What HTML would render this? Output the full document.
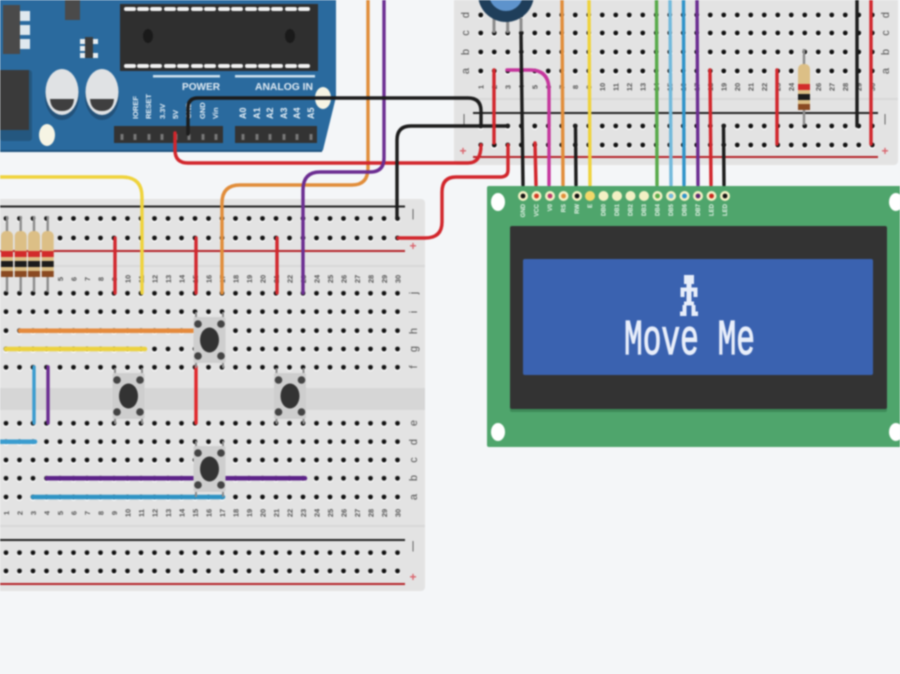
<!DOCTYPE html>
<html><head><meta charset="utf-8"><style>
html,body{margin:0;padding:0;background:#f4f6f8}
svg{display:block;filter:blur(.7px)}
.n{font:bold 7.5px "Liberation Sans",sans-serif;fill:#555;text-anchor:middle}
.l{font:11px "Liberation Sans",sans-serif;fill:#555;text-anchor:middle}
.s{font:bold 12px "Liberation Sans",sans-serif;fill:#d9636b;text-anchor:middle}
.p{font:bold 6px "Liberation Sans",sans-serif;fill:#e6f3e8;text-anchor:end}
.a{font:bold 9px "Liberation Sans",sans-serif;fill:#e6eff6;text-anchor:start}
.w{fill:none;stroke-width:3.4;stroke-linecap:round}
</style></head><body>
<svg width="900" height="674" viewBox="0 0 900 674" xmlns="http://www.w3.org/2000/svg">
<defs>
<pattern id="h" patternUnits="userSpaceOnUse" width="13.5" height="10">
<circle cx="6.75" cy="5.9" r="2.9" fill="#fff"/><circle cx="6.75" cy="5" r="2.4" fill="#111"/>
</pattern>
<g id="btn">
<g stroke="#8c8c8c" stroke-width="2"><path d="M-13.5 -28V-20M13.5 -28V-20M-13.5 28V20M13.5 28V20"/></g>
<rect x="-16" y="-23" width="32" height="46" rx="2" fill="#cecece"/>
<g fill="#444"><circle cx="-11.5" cy="-16" r="3.8"/><circle cx="11.5" cy="-16" r="3.8"/><circle cx="-11.5" cy="16" r="3.8"/><circle cx="11.5" cy="16" r="3.8"/></g>
<ellipse cx="0" cy="0" rx="9.5" ry="12.5" fill="#333"/>
</g>
<g id="res">
<path d="M0 -2V74" stroke="#8c8c8c" stroke-width="2.4"/>
<rect x="-6" y="13" width="12" height="46" rx="5" fill="#dcbf86"/>
<rect x="-6" y="33" width="12" height="6" fill="#d22b2b"/>
<rect x="-6" y="43" width="12" height="6" fill="#1c1c1c"/>
<rect x="-6" y="53" width="12" height="6" fill="#8a4a22"/>
</g>
</defs>
<rect width="900" height="674" fill="#f4f6f8"/>

<!-- Arduino -->
<path d="M0 0H336V97L323 150Q322 152 318 152H0Z" fill="#2a6a9e"/>
<path d="M0 150H322L322 152H0Z" fill="#1e5480"/>
<rect x="65" y="0" width="15" height="20" fill="#4a4a4a"/>
<rect x="3" y="5" width="17" height="49" fill="#4a4a4a"/>
<g fill="#dfe8ee"><rect x="20" y="11" width="10" height="10"/><rect x="20" y="25" width="10" height="10"/><rect x="20" y="39" width="10" height="10"/></g>
<rect x="85" y="37" width="8" height="21" fill="#3c3c3c"/>
<g fill="#e8eef2"><rect x="80" y="39" width="5" height="5"/><rect x="80" y="46" width="5" height="5"/><rect x="80" y="53" width="5" height="5"/><rect x="93" y="39" width="5" height="5"/><rect x="93" y="53" width="5" height="5"/></g>
<rect x="120" y="4" width="198" height="67" fill="#2f2f2f"/>
<g fill="#f2f2f2">
<path d="M126 9h8M139 9h8M152 9h8M166 9h8M179 9h8M193 9h8M206 9h8M220 9h8M233 9h8M247 9h8M260 9h8M273 9h8M287 9h8M300 9h8" stroke="#f2f2f2" stroke-width="4" stroke-linecap="round"/>
<path d="M126 66h8M139 66h8M152 66h8M166 66h8M179 66h8M193 66h8M206 66h8M220 66h8M233 66h8M247 66h8M260 66h8M273 66h8M287 66h8M300 66h8" stroke="#f2f2f2" stroke-width="4" stroke-linecap="round"/>
</g>
<ellipse cx="148" cy="36" rx="5" ry="7" fill="#1a1a1a"/><ellipse cx="290" cy="36" rx="5" ry="7" fill="#1a1a1a"/>
<rect x="0" y="70" width="32" height="71" rx="3" fill="#24577f"/>
<rect x="0" y="70" width="29" height="60" fill="#3a3a3a"/>
<ellipse cx="62" cy="97" rx="17" ry="23" fill="#23527a"/><ellipse cx="102" cy="97" rx="17" ry="23" fill="#23527a"/>
<ellipse cx="62" cy="92" rx="16.5" ry="23" fill="#e0e2e4"/><ellipse cx="102" cy="92" rx="16.5" ry="23" fill="#e0e2e4"/>
<path d="M50 99H74Q73 111 62 111Q51 111 50 99ZM90 99H114Q113 111 102 111Q91 111 90 99Z" fill="#3f3f3f"/>
<ellipse cx="47" cy="135" rx="8" ry="11" fill="#f6f4e4"/>
<ellipse cx="323" cy="98" rx="8" ry="11" fill="#f6f4e4"/>
<rect x="153" y="75" width="67" height="2.5" fill="#cfe2ef"/><rect x="235" y="75" width="80" height="2.5" fill="#cfe2ef"/>
<text x="182" y="90" font-family="Liberation Sans,sans-serif" font-size="10.5" font-weight="bold" fill="#dfeaf3" textLength="38" lengthAdjust="spacingAndGlyphs">POWER</text>
<text x="255" y="90" font-family="Liberation Sans,sans-serif" font-size="10.5" font-weight="bold" fill="#dfeaf3" textLength="58" lengthAdjust="spacingAndGlyphs">ANALOG IN</text>
<text class="a" style="font-size:7.5px" transform="translate(138 119)rotate(-90)">IOREF</text>
<text class="a" style="font-size:7.5px" transform="translate(151 119)rotate(-90)">RESET</text>
<text class="a" style="font-size:7.5px" transform="translate(165 119)rotate(-90)">3.3V</text>
<text class="a" style="font-size:7.5px" transform="translate(178 119)rotate(-90)">5V</text>
<text class="a" style="font-size:7.5px" transform="translate(191 119)rotate(-90)">GND</text>
<text class="a" style="font-size:7.5px" transform="translate(205 119)rotate(-90)">GND</text>
<text class="a" style="font-size:7.5px" transform="translate(218 119)rotate(-90)">Vin</text>
<text class="a" transform="translate(246 119)rotate(-90)">A0</text>
<text class="a" transform="translate(260 119)rotate(-90)">A1</text>
<text class="a" transform="translate(273 119)rotate(-90)">A2</text>
<text class="a" transform="translate(287 119)rotate(-90)">A3</text>
<text class="a" transform="translate(300 119)rotate(-90)">A4</text>
<text class="a" transform="translate(314 119)rotate(-90)">A5</text>
<rect x="114" y="126" width="109" height="17" fill="#333"/><rect x="235" y="126" width="82" height="17" fill="#333"/>
<path d="M122 134v6M135 134v6M149 134v6M162 134v6M176 134v6M189 134v6M203 134v6M216 134v6M243 134v6M257 134v6M270 134v6M284 134v6M297 134v6M311 134v6" stroke="#777" stroke-width="3"/>

<!-- Right breadboard -->
<rect x="454" y="-6" width="444" height="171" rx="4" fill="#e3e3e3"/>
<rect x="454" y="98" width="444" height="2" fill="#d8d8d8"/>
<g transform="translate(474 10)"><rect width="405" height="10" fill="url(#h)"/></g>
<g transform="translate(474 28)"><rect width="405" height="10" fill="url(#h)"/></g>
<g transform="translate(474 47)"><rect width="405" height="10" fill="url(#h)"/></g>
<g transform="translate(474 66)"><rect width="405" height="10" fill="url(#h)"/></g>
<g transform="translate(474 121)"><rect width="405" height="10" fill="url(#h)"/></g>
<g transform="translate(474 140)"><rect width="405" height="10" fill="url(#h)"/></g>
<path d="M473 113H878" stroke="#222" stroke-width="2"/>
<path d="M473 157H878" stroke="#b5262a" stroke-width="2"/>
<text class="n" transform="translate(483.5 87)rotate(-90)">1</text><text class="n" transform="translate(497 87)rotate(-90)">2</text><text class="n" transform="translate(510.5 87)rotate(-90)">3</text><text class="n" transform="translate(524 87)rotate(-90)">4</text><text class="n" transform="translate(537.5 87)rotate(-90)">5</text><text class="n" transform="translate(551 87)rotate(-90)">6</text><text class="n" transform="translate(564.5 87)rotate(-90)">7</text><text class="n" transform="translate(578 87)rotate(-90)">8</text><text class="n" transform="translate(591.5 87)rotate(-90)">9</text><text class="n" transform="translate(605 87)rotate(-90)">10</text><text class="n" transform="translate(618.5 87)rotate(-90)">11</text><text class="n" transform="translate(632 87)rotate(-90)">12</text><text class="n" transform="translate(645.5 87)rotate(-90)">13</text><text class="n" transform="translate(659 87)rotate(-90)">14</text><text class="n" transform="translate(672.5 87)rotate(-90)">15</text><text class="n" transform="translate(686 87)rotate(-90)">16</text><text class="n" transform="translate(699.5 87)rotate(-90)">17</text><text class="n" transform="translate(713 87)rotate(-90)">18</text><text class="n" transform="translate(726.5 87)rotate(-90)">19</text><text class="n" transform="translate(740 87)rotate(-90)">20</text><text class="n" transform="translate(753.5 87)rotate(-90)">21</text><text class="n" transform="translate(767 87)rotate(-90)">22</text><text class="n" transform="translate(780.5 87)rotate(-90)">23</text><text class="n" transform="translate(794 87)rotate(-90)">24</text><text class="n" transform="translate(807.5 87)rotate(-90)">25</text><text class="n" transform="translate(821 87)rotate(-90)">26</text><text class="n" transform="translate(834.5 87)rotate(-90)">27</text><text class="n" transform="translate(848 87)rotate(-90)">28</text><text class="n" transform="translate(861.5 87)rotate(-90)">29</text><text class="n" transform="translate(875 87)rotate(-90)">30</text>
<text class="l" transform="translate(469 15)rotate(-90)">d</text><text class="l" transform="translate(469 33)rotate(-90)">c</text><text class="l" transform="translate(469 52)rotate(-90)">b</text><text class="l" transform="translate(469 71)rotate(-90)">a</text>
<text class="l" transform="translate(889 15)rotate(-90)">d</text><text class="l" transform="translate(889 33)rotate(-90)">c</text><text class="l" transform="translate(889 52)rotate(-90)">b</text><text class="l" transform="translate(889 71)rotate(-90)">a</text>
<text class="l" x="464" y="122">|</text><text class="l" x="885" y="122">|</text>
<text class="s" x="463" y="155">+</text><text class="s" x="885" y="155">+</text>

<!-- Pot -->
<path d="M494 18V33M507.7 18V33M521 18V33" stroke="#8c8c8c" stroke-width="3"/>
<circle cx="506" cy="-6" r="28" fill="#1f3e5a"/><circle cx="506" cy="-6" r="17" fill="#5e93cc"/>
<use href="#res" x="804" y="51"/>

<!-- Left breadboard -->
<rect x="-6" y="199" width="431" height="392" rx="4" fill="#e3e3e3"/>
<rect x="0" y="388" width="425" height="22" fill="#d6d6d6"/>
<rect x="0" y="265" width="425" height="2" fill="#d8d8d8"/>
<rect x="0" y="525" width="425" height="2" fill="#d8d8d8"/>
<g transform="translate(-.75 213.5)"><rect width="405" height="10" fill="url(#h)"/></g>
<g transform="translate(-.75 233)"><rect width="405" height="10" fill="url(#h)"/></g>
<g transform="translate(-.75 288.3)"><rect width="405" height="10" fill="url(#h)"/></g>
<g transform="translate(-.75 306.7)"><rect width="405" height="10" fill="url(#h)"/></g>
<g transform="translate(-.75 325.7)"><rect width="405" height="10" fill="url(#h)"/></g>
<g transform="translate(-.75 344)"><rect width="405" height="10" fill="url(#h)"/></g>
<g transform="translate(-.75 362.3)"><rect width="405" height="10" fill="url(#h)"/></g>
<g transform="translate(-.75 418.3)"><rect width="405" height="10" fill="url(#h)"/></g>
<g transform="translate(-.75 436.7)"><rect width="405" height="10" fill="url(#h)"/></g>
<g transform="translate(-.75 455)"><rect width="405" height="10" fill="url(#h)"/></g>
<g transform="translate(-.75 473.3)"><rect width="405" height="10" fill="url(#h)"/></g>
<g transform="translate(-.75 492)"><rect width="405" height="10" fill="url(#h)"/></g>
<g transform="translate(-.75 547.7)"><rect width="405" height="10" fill="url(#h)"/></g>
<g transform="translate(-.75 566)"><rect width="405" height="10" fill="url(#h)"/></g>
<path d="M0 206.5H405M0 540H405" stroke="#222" stroke-width="2"/>
<path d="M0 251H405M0 584H405" stroke="#b5262a" stroke-width="2"/>
<text class="n" transform="translate(63 279)rotate(-90)">5</text><text class="n" transform="translate(76.5 279)rotate(-90)">6</text><text class="n" transform="translate(90 279)rotate(-90)">7</text><text class="n" transform="translate(103.5 279)rotate(-90)">8</text><text class="n" transform="translate(117 279)rotate(-90)">9</text><text class="n" transform="translate(130.5 279)rotate(-90)">10</text><text class="n" transform="translate(144 279)rotate(-90)">11</text><text class="n" transform="translate(157.5 279)rotate(-90)">12</text><text class="n" transform="translate(171 279)rotate(-90)">13</text><text class="n" transform="translate(184.5 279)rotate(-90)">14</text><text class="n" transform="translate(198 279)rotate(-90)">15</text><text class="n" transform="translate(211.5 279)rotate(-90)">16</text><text class="n" transform="translate(225 279)rotate(-90)">17</text><text class="n" transform="translate(238.5 279)rotate(-90)">18</text><text class="n" transform="translate(252 279)rotate(-90)">19</text><text class="n" transform="translate(265.5 279)rotate(-90)">20</text><text class="n" transform="translate(279 279)rotate(-90)">21</text><text class="n" transform="translate(292.5 279)rotate(-90)">22</text><text class="n" transform="translate(306 279)rotate(-90)">23</text><text class="n" transform="translate(319.5 279)rotate(-90)">24</text><text class="n" transform="translate(333 279)rotate(-90)">25</text><text class="n" transform="translate(346.5 279)rotate(-90)">26</text><text class="n" transform="translate(360 279)rotate(-90)">27</text><text class="n" transform="translate(373.5 279)rotate(-90)">28</text><text class="n" transform="translate(387 279)rotate(-90)">29</text><text class="n" transform="translate(400.5 279)rotate(-90)">30</text>
<text class="n" transform="translate(9 513)rotate(-90)">1</text><text class="n" transform="translate(22.5 513)rotate(-90)">2</text><text class="n" transform="translate(36 513)rotate(-90)">3</text><text class="n" transform="translate(49.5 513)rotate(-90)">4</text><text class="n" transform="translate(63 513)rotate(-90)">5</text><text class="n" transform="translate(76.5 513)rotate(-90)">6</text><text class="n" transform="translate(90 513)rotate(-90)">7</text><text class="n" transform="translate(103.5 513)rotate(-90)">8</text><text class="n" transform="translate(117 513)rotate(-90)">9</text><text class="n" transform="translate(130.5 513)rotate(-90)">10</text><text class="n" transform="translate(144 513)rotate(-90)">11</text><text class="n" transform="translate(157.5 513)rotate(-90)">12</text><text class="n" transform="translate(171 513)rotate(-90)">13</text><text class="n" transform="translate(184.5 513)rotate(-90)">14</text><text class="n" transform="translate(198 513)rotate(-90)">15</text><text class="n" transform="translate(211.5 513)rotate(-90)">16</text><text class="n" transform="translate(225 513)rotate(-90)">17</text><text class="n" transform="translate(238.5 513)rotate(-90)">18</text><text class="n" transform="translate(252 513)rotate(-90)">19</text><text class="n" transform="translate(265.5 513)rotate(-90)">20</text><text class="n" transform="translate(279 513)rotate(-90)">21</text><text class="n" transform="translate(292.5 513)rotate(-90)">22</text><text class="n" transform="translate(306 513)rotate(-90)">23</text><text class="n" transform="translate(319.5 513)rotate(-90)">24</text><text class="n" transform="translate(333 513)rotate(-90)">25</text><text class="n" transform="translate(346.5 513)rotate(-90)">26</text><text class="n" transform="translate(360 513)rotate(-90)">27</text><text class="n" transform="translate(373.5 513)rotate(-90)">28</text><text class="n" transform="translate(387 513)rotate(-90)">29</text><text class="n" transform="translate(400.5 513)rotate(-90)">30</text>
<text class="l" transform="translate(417 293)rotate(-90)">j</text><text class="l" transform="translate(417 312)rotate(-90)">i</text><text class="l" transform="translate(417 331)rotate(-90)">h</text><text class="l" transform="translate(417 349)rotate(-90)">g</text><text class="l" transform="translate(417 367)rotate(-90)">f</text>
<text class="l" transform="translate(417 423)rotate(-90)">e</text><text class="l" transform="translate(417 442)rotate(-90)">d</text><text class="l" transform="translate(417 460)rotate(-90)">c</text><text class="l" transform="translate(417 478)rotate(-90)">b</text><text class="l" transform="translate(417 497)rotate(-90)">a</text>
<text class="l" x="413" y="217">|</text><text class="l" x="413" y="549">|</text>
<text class="s" x="413" y="250">+</text><text class="s" x="413" y="581">+</text>
<use href="#res" x="7" y="218"/><use href="#res" x="20.7" y="218"/><use href="#res" x="34" y="218"/><use href="#res" x="47.7" y="218"/>

<!-- Wires on left board -->
<g class="w">
<path d="M115 238V293M196 238V293M277 238V293" stroke="#d2282e"/>
<path d="M20 330.7H195" stroke="#e58a3c" stroke-width="4.5"/>
<path d="M6 349H145" stroke="#ecd23e" stroke-width="4.5"/>
<path d="M34 367V423" stroke="#3a9ccf"/><path d="M48 367V423" stroke="#6b2d91"/>
<path d="M196 367V423" stroke="#e0282c"/>
<path d="M0 441.7H35" stroke="#3a9ccf" stroke-width="4.5"/>
<path d="M47 478.3H305" stroke="#5c2288" stroke-width="4.5"/>
<path d="M33 497H223" stroke="#2f93c4" stroke-width="4.5"/>
</g>
<use href="#btn" x="209.5" y="340"/><use href="#btn" x="128.5" y="396"/><use href="#btn" x="290" y="396"/><use href="#btn" x="209.5" y="469"/>

<!-- Main wires -->
<g class="w">
<path d="M0 177H122Q142 177 142 197V293" stroke="#efd33c"/>
<path d="M368 0V168Q368 185 352 185H240Q222 185 222 203V293" stroke="#e18d3a"/>
<path d="M175 133V150Q175 163 188 163H468Q481 163 481 145" stroke="#d2262c"/>
<path d="M384 0V158Q384 172 370 172H320Q303 172 303 190V293" stroke="#6b2d91"/>
<path d="M188 134V108Q188 98 198 98H468Q481 98 481 111V125" stroke="#1c1c1c"/>
<path d="M397 218V140Q397 126 411 126H508" stroke="#1c1c1c"/>
<path d="M398 238H425Q442 238 442 222V192Q442 177 456 177H500Q508 177 508 170V145" stroke="#d2262c"/>
<path d="M507 70H530Q549 70 549 90V185" stroke="#c5359c"/>
<path d="M494 70V143" stroke="#d2262c"/>
<path d="M521 33L523 185" stroke="#1c1c1c"/>
<path d="M535 143L536 185" stroke="#d2262c"/>
<path d="M562 0L563 185" stroke="#e18d3a"/>
<path d="M575.5 126L576 185" stroke="#1c1c1c"/>
<path d="M589 0L590 185" stroke="#efd33c"/>
<path d="M656.5 0L657 185" stroke="#58aa4a"/>
<path d="M670 0L671 185" stroke="#72b9db"/>
<path d="M683.5 0L684 185" stroke="#2f93c9"/>
<path d="M697 0L698 185" stroke="#6b2d91"/>
<path d="M710 70L711 185" stroke="#d2262c"/>
<path d="M723.5 126L724 185" stroke="#1c1c1c"/>
<path d="M777 70V144" stroke="#d2262c"/>
<path d="M857 0V126" stroke="#1c1c1c"/>
<path d="M871 0V144" stroke="#d2262c"/>
</g>

<!-- LCD -->
<rect x="487" y="186" width="420" height="261" rx="2" fill="#4fa56c"/>
<rect x="510" y="228" width="377" height="184" rx="2" fill="#3d8a58"/>
<rect x="510" y="226" width="377" height="183" rx="2" fill="#333"/>
<rect x="523" y="259" width="350" height="116" rx="2" fill="#3a62b0"/>
<g fill="#fff"><ellipse cx="498" cy="202" rx="7" ry="9"/><ellipse cx="498" cy="432" rx="7" ry="9"/><ellipse cx="896" cy="202" rx="7" ry="9"/><ellipse cx="896" cy="432" rx="7" ry="9"/></g>
<g fill="#f3f0c4">
<circle cx="523" cy="196" r="5"/><circle cx="536.5" cy="196" r="5"/><circle cx="550" cy="196" r="5"/><circle cx="563.5" cy="196" r="5"/><circle cx="577" cy="196" r="5"/><circle cx="590" cy="196" r="5" fill="#f2d86a"/><circle cx="603.5" cy="196" r="5"/><circle cx="617" cy="196" r="5"/><circle cx="630.5" cy="196" r="5"/><circle cx="644" cy="196" r="5"/><circle cx="657.5" cy="196" r="5"/><circle cx="671" cy="196" r="5"/><circle cx="684.5" cy="196" r="5"/><circle cx="698" cy="196" r="5"/><circle cx="711.5" cy="196" r="5"/><circle cx="725" cy="196" r="5"/>
</g>
<circle cx="523" cy="196" r="2.4" fill="#111"/><circle cx="536.5" cy="196" r="2.4" fill="#d23a24"/><circle cx="550" cy="196" r="2.4" fill="#b83a6a"/><circle cx="563.5" cy="196" r="2.4" fill="#e18d3a"/><circle cx="577" cy="196" r="2.4" fill="#111"/><circle cx="657.5" cy="196" r="2.4" fill="#58aa4a"/><circle cx="671" cy="196" r="2.4" fill="#72b9db"/><circle cx="684.5" cy="196" r="2.4" fill="#2f93c9"/><circle cx="698" cy="196" r="2.4" fill="#5a2a70"/><circle cx="711.5" cy="196" r="2.4" fill="#c8281e"/><circle cx="725" cy="196" r="2.4" fill="#111"/>
<text class="p" transform="translate(525 204)rotate(-90)">GND</text><text class="p" transform="translate(538.5 204)rotate(-90)">VCC</text><text class="p" transform="translate(552 204)rotate(-90)">V0</text><text class="p" transform="translate(565.5 204)rotate(-90)">RS</text><text class="p" transform="translate(579 204)rotate(-90)">RW</text><text class="p" transform="translate(592 204)rotate(-90)">E</text><text class="p" transform="translate(605.5 204)rotate(-90)">DB0</text><text class="p" transform="translate(619 204)rotate(-90)">DB1</text><text class="p" transform="translate(632.5 204)rotate(-90)">DB2</text><text class="p" transform="translate(646 204)rotate(-90)">DB3</text><text class="p" transform="translate(659.5 204)rotate(-90)">DB4</text><text class="p" transform="translate(673 204)rotate(-90)">DB5</text><text class="p" transform="translate(686.5 204)rotate(-90)">DB6</text><text class="p" transform="translate(700 204)rotate(-90)">DB7</text><text class="p" transform="translate(713.5 204)rotate(-90)">LED</text><text class="p" transform="translate(727 204)rotate(-90)">LED</text>
<!-- figure -->
<g fill="#e8eefa">
<rect x="684" y="275" width="10" height="9"/>
<rect x="686.5" y="284" width="5" height="5"/>
<rect x="680.5" y="287.5" width="17" height="4"/>
<rect x="680.5" y="288" width="4" height="9"/><rect x="693.5" y="288" width="4" height="9"/>
<rect x="686.5" y="291" width="5" height="12"/>
<rect x="684" y="301.5" width="10" height="4"/>
<rect x="682.5" y="305" width="4" height="8"/><rect x="691.5" y="305" width="4" height="8"/>
<rect x="680" y="311.5" width="6.5" height="4.5"/><rect x="691.5" y="311.5" width="6.5" height="4.5"/>
</g>
<text transform="translate(624 354) scale(.6 .97)" font-family="Liberation Mono,monospace" font-size="52" fill="#e8eefa" stroke="#e8eefa" stroke-width="1.2">Move Me</text>
</svg>
</body></html>
